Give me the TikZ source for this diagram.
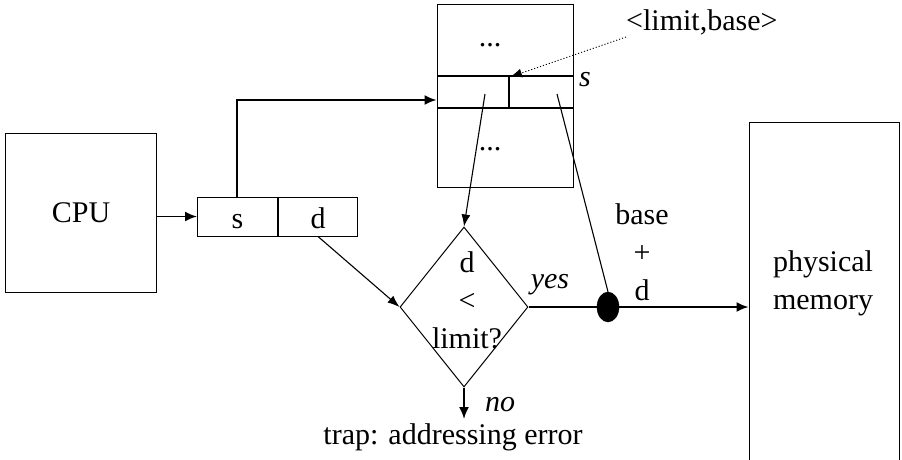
\documentclass[tikz,border=0pt]{standalone}
\usepackage{fontspec}
\setmainfont{Liberation Serif}
\usetikzlibrary{arrows.meta}
\usetikzlibrary{shapes.geometric}
\usetikzlibrary{positioning}

\tikzset{
  box/.style={draw, line width=1pt, inner sep=0pt},
  seg/.style={line width=2pt},
  conn/.style={line width=1.1pt, -{Latex[length=12pt,width=9pt]}},
  bold/.style={line width=1.8pt, -{Latex[length=12pt,width=10pt]}},
  lbl/.style={inner sep=0pt, align=center}
}

\begin{document}
\begin{tikzpicture}[x=1pt,y=-1pt,font=\fontsize{30}{38}\selectfont]
        \clip (0,0) rectangle (902,460);
        \fill[white] (0,0) rectangle (902,460);
        % boxes
        \node[box, minimum width=151, minimum height=159] (cpu) at (81,212.5) {CPU};
        \node[box, minimum width=80, minimum height=39, text height=25, text depth=2] (sbox) at (237.5,216.5) {s};
        \node[box, minimum width=79, minimum height=39, text height=25, text depth=2, right=0pt of sbox] (dbox) {d};
        \node[box, minimum width=136, minimum height=182] (tbl) at (505,96) {};
        \node[box, minimum width=150, minimum height=360] (mem) at (824,302) {};
        \node[lbl] (memtxt) at (823,283) {physical\\memory};
        \draw[seg] (sbox.north east) -- (sbox.south east);
        % segment table
        \draw[seg] (437,76) -- (573,76);
        \draw[seg] (437,108) -- (573,108);
        \draw[seg] (509,76) -- (509,108);
        \node[lbl] (dots1) at (490,45) {...};
        \node[lbl] (dots2) at (490,149) {...};
        \node[lbl, font=\fontsize{30}{38}\selectfont\itshape] (sidx) at (585,80) {s};
        \node[lbl, anchor=west] (pair) at (626,22) {<limit,base>};
        \coordinate (limpt) at (485,94);
        \coordinate (basept) at (557,94);
        \coordinate (rowtip) at (510,77);
        % check
        \node[draw, line width=1pt, diamond, minimum width=128, minimum height=160, inner sep=0pt] (chk) at (464,307) {};
        \node[lbl] (chktxt) at (467,300) {d\\<\\limit?};
        \node[draw, fill=black, ellipse, minimum width=22, minimum height=30, inner sep=0pt] (dot) at (608,307) {};
        \node[lbl] (sum) at (642,252) {base\\+\\d};
        \node[lbl, font=\fontsize{30}{38}\selectfont\itshape] (yes) at (550,285) {yes};
        \node[lbl, font=\fontsize{30}{38}\selectfont\itshape] (no) at (500,405) {no};
        \node[lbl] (trap) at (453,437) {trap: addressing error};
        \coordinate (noend) at (chk.south |- 0,419);
        % connectors
        \draw[bold] (cpu.east |- sbox) -- (sbox.west);
        \draw[bold] (237,197) |- (tbl.west |- 0,100);
        \draw[conn, dotted, line width=0.9pt] (pair.west |- 0,37) -- (rowtip);
        \draw[conn] (limpt) -- (chk.north);
        \draw[conn] (dbox.south) -- (chk.west);
        \draw[line width=1.1pt] (basept) -- (dot.north);
        \draw[line width=1.4pt] (chk.east) -- (dot.west);
        \draw[bold] (dot.east) -- (dot -| mem.west);
        \draw[bold] (chk.south) -- (noend);
\end{tikzpicture}
\end{document}
